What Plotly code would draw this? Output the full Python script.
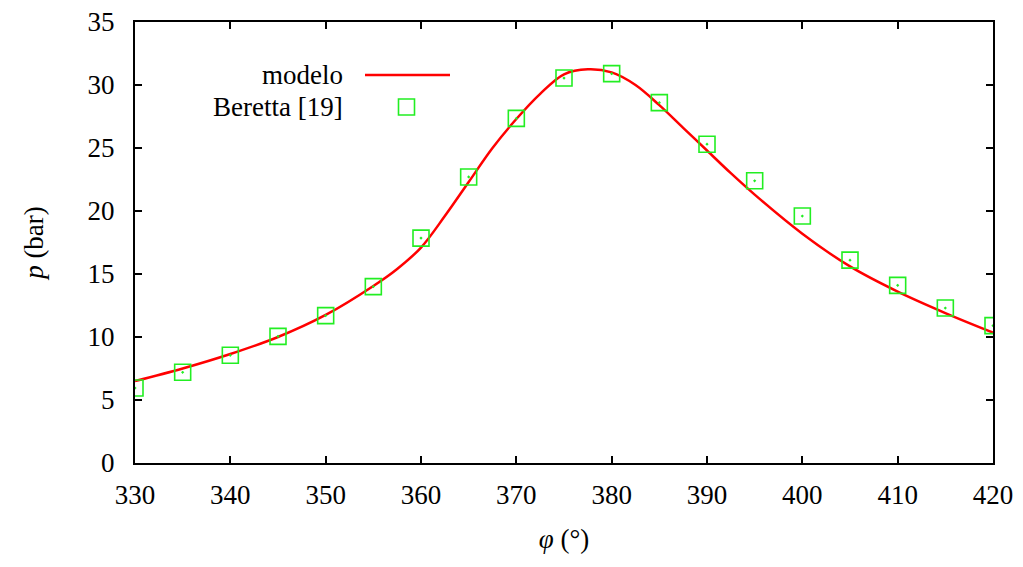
import plotly.graph_objects as go

# Experimental data (Beretta [19])
exp_phi = [330, 335, 340, 345, 350, 355, 360, 365, 370, 375, 380, 385, 390, 395, 400, 405, 410, 415, 420]
exp_p = [5.95, 7.2, 8.55, 10.05, 11.7, 14.0, 17.85, 22.7, 27.35, 30.55, 30.9, 28.6, 25.3, 22.4, 19.6, 16.1, 14.1, 12.3, 10.9]

# Model curve
mod_phi = [330, 335, 340, 345, 350, 355, 357.5, 360, 362.5, 365, 367.5, 370, 372.5, 375, 377.5, 380,
           382.5, 385, 387.5, 390, 392.5, 395, 400, 405, 410, 415, 420]
mod_p = [6.5, 7.5, 8.65, 10.0, 11.75, 14.05, 15.4, 17.1, 19.6, 22.3, 25.0, 27.3, 29.3, 30.85, 31.25, 31.0,
         30.0, 28.4, 26.6, 24.8, 23.0, 21.3, 18.2, 15.6, 13.6, 11.9, 10.35]

x_ticks = [330, 340, 350, 360, 370, 380, 390, 400, 410, 420]
y_ticks = [0, 5, 10, 15, 20, 25, 30, 35]

FONT = "Liberation Serif, Times New Roman, DejaVu Serif, serif"
FS = 27

fig = go.Figure()
fig.add_trace(go.Scatter(x=mod_phi, y=mod_p, mode="lines",
                         line=dict(color="#ff0000", width=2.5, shape="spline", smoothing=1.0),
                         name="modelo", showlegend=False))
fig.add_trace(go.Scatter(x=exp_phi, y=exp_p, mode="markers",
                         marker=dict(symbol="square-open-dot", size=16, color="#22ee22",
                                     line=dict(width=1.6, color="#22ee22")),
                         name="Beretta [19]", showlegend=False))

L, R, T, B = 135, 30, 22, 104
W, H = 1023, 567
pw, ph = W - L - R, H - T - B

def px(xp):
    return (xp - L) / pw

def py(yp):
    return (H - B - yp) / ph

# legend (gnuplot style: text then sample)
fig.add_shape(type="line", xref="paper", yref="paper", x0=px(365), x1=px(450), y0=py(75), y1=py(75),
              line=dict(color="#ff0000", width=2.5))
fig.add_shape(type="rect", xref="paper", yref="paper", x0=px(398.5), x1=px(414.5), y0=py(115), y1=py(99),
              line=dict(color="#22ee22", width=1.6))
fig.add_annotation(xref="paper", yref="paper", x=px(345), y=py(75), text="modelo", showarrow=False,
                   xanchor="right", yanchor="middle", font=dict(family=FONT, size=FS, color="black"))
fig.add_annotation(xref="paper", yref="paper", x=px(345), y=py(107), text="Beretta [19]", showarrow=False,
                   xanchor="right", yanchor="middle", font=dict(family=FONT, size=FS, color="black"))

axis_common = dict(showgrid=False, zeroline=False, showline=True, linecolor="black", linewidth=2,
                   mirror="ticks", ticks="inside", ticklen=7, tickwidth=2, tickcolor="black",
                   automargin=False, tickfont=dict(family=FONT, size=FS, color="black"))

fig.update_xaxes(range=[330, 420], tickvals=x_ticks, ticktext=[str(v) for v in x_ticks],
                 title=dict(text="<i>φ</i> (°)", font=dict(family=FONT, size=FS, color="black"), standoff=20),
                 ticklabelstandoff=7, **axis_common)
fig.update_yaxes(range=[0, 35], tickvals=y_ticks, ticktext=[str(v) for v in y_ticks],
                 title=dict(text="<i>p</i> (bar)", font=dict(family=FONT, size=FS, color="black"), standoff=36),
                 ticklabelstandoff=13, **axis_common)

fig.update_layout(width=W, height=H, margin=dict(l=L, r=R, t=T, b=B, autoexpand=False), plot_bgcolor="white",
                  paper_bgcolor="white", showlegend=False)

fig.write_html("out.html")
